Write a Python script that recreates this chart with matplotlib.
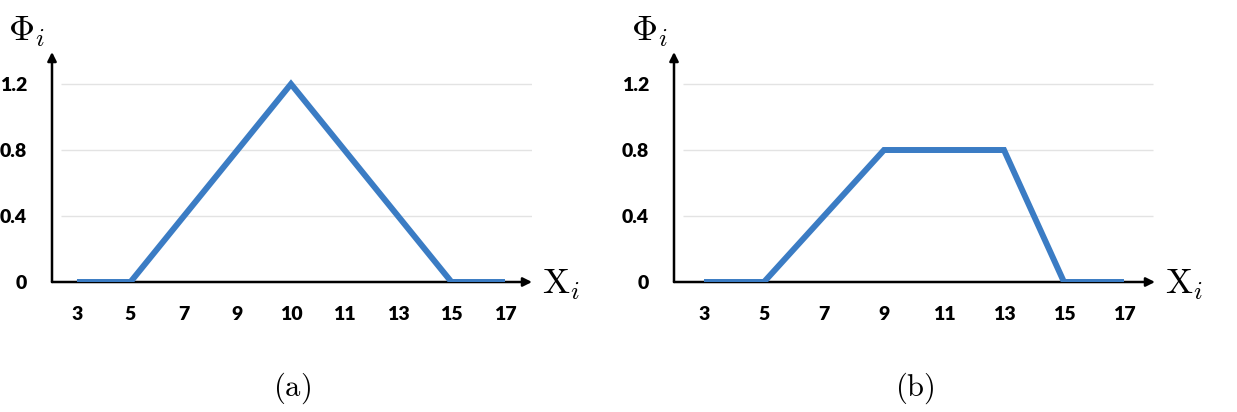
import matplotlib
matplotlib.use("Agg")
import matplotlib.pyplot as plt

plt.rcParams['mathtext.fontset'] = 'cm'

# Panel (a)
cats_a = ["3", "5", "7", "9", "10", "11", "13", "15", "17"]
vals_a = [0, 0, 0.4, 0.8, 1.2, 0.8, 0.4, 0, 0]
# Panel (b)
cats_b = ["3", "5", "7", "9", "11", "13", "15", "17"]
vals_b = [0, 0, 0.4, 0.8, 0.8, 0.8, 0, 0]
yticks = [0, 0.4, 0.8, 1.2]
ytick_labels = ["0", "0.4", "0.8", "1.2"]

W, H = 1237, 412
fig = plt.figure(figsize=(W / 100, H / 100), dpi=100)

BLUE = '#3B7CC4'
GRID = '#E3E3E3'
TICKFONT = dict(family='Lato', weight='heavy', size=14)


def make_panel(left_px, right_px, xlim, grid_x, cats, vals, label, label_x, phi_x, xi_x):
    bottom_px, top_px = 282, 52
    ax = fig.add_axes([left_px / W, (H - bottom_px) / H,
                       (right_px - left_px) / W, (bottom_px - top_px) / H])
    x = list(range(len(cats)))
    ax.set_xlim(*xlim)
    ax.set_ylim(0, 1.394)
    for s in ax.spines.values():
        s.set_visible(False)
    ax.hlines([t for t in yticks if t > 0], grid_x[0], grid_x[1], colors=GRID, lw=1.0, zorder=1)
    ax.plot(x, vals, color=BLUE, lw=4.3, zorder=4, solid_capstyle='butt', solid_joinstyle='miter')
    ax.annotate('', xy=(1, 0), xytext=(0, 0), xycoords='axes fraction',
                arrowprops=dict(arrowstyle='-|>', lw=1.8, color='black', mutation_scale=13,
                                shrinkA=0, shrinkB=0), zorder=3)
    ax.annotate('', xy=(0, 1), xytext=(0, 0), xycoords='axes fraction',
                arrowprops=dict(arrowstyle='-|>', lw=1.8, color='black', mutation_scale=13,
                                shrinkA=0, shrinkB=0), zorder=3)
    ax.set_xticks(x)
    ax.set_xticklabels(cats, fontdict=TICKFONT)
    ax.set_yticks(yticks)
    ax.set_yticklabels(ytick_labels, fontdict=TICKFONT)
    ax.tick_params(axis='both', length=0)
    ax.tick_params(axis='x', pad=17)
    ax.tick_params(axis='y', pad=18)
    ax.patch.set_alpha(0)
    fig.text(phi_x / W, 1 - 32 / H, r'$\Phi_i$', fontsize=26, ha='center', va='center')
    fig.text(xi_x / W, 1 - 285 / H, r'$\mathrm{X}_i$', fontsize=26, ha='left', va='center')
    fig.text(label_x / W, 1 - 388 / H, r'$\mathrm{(%s)}$' % label, fontsize=22, ha='center', va='center')
    return ax


make_panel(52, 532, (-0.467, 8.505), (-0.3, 8.5), cats_a, vals_a, 'a', 292, 27, 542)
make_panel(674, 1155, (-0.5, 7.517), (-0.35, 7.48), cats_b, vals_b, 'b', 915, 650, 1165)

fig.savefig('out.png', dpi=100)
